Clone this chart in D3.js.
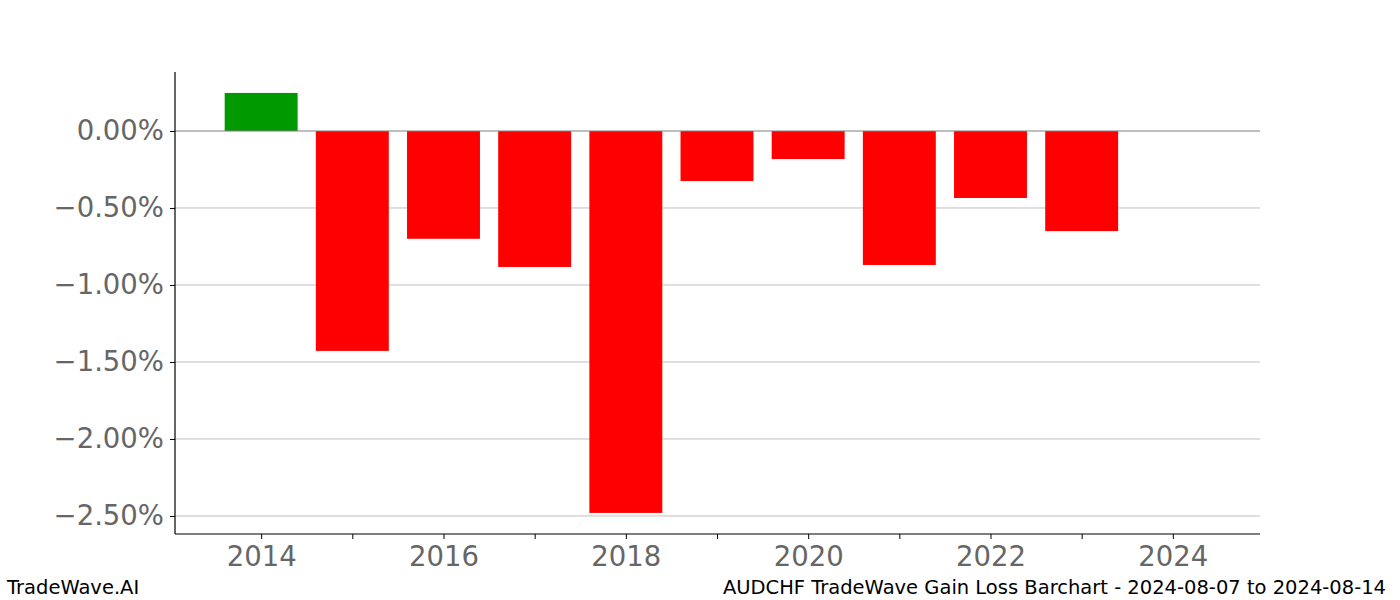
<!DOCTYPE html>
<html><head><meta charset="utf-8">
<script src="https://cdn.jsdelivr.net/npm/d3@7"></script>
<style>body{margin:0;background:#fff}svg{display:block;font-family:"DejaVu Sans",sans-serif}</style>
</head><body>
<svg id="c" width="1400" height="600"></svg>
<script>
const years = [2014, 2015, 2016, 2017, 2018, 2019, 2020, 2021, 2022, 2023];
const values = [0.247, -1.428, -0.70, -0.883, -2.48, -0.325, -0.182, -0.870, -0.435, -0.650];
const yTicks = [0, -0.5, -1.0, -1.5, -2.0, -2.5];
const xTicks = [2014, 2016, 2018, 2020, 2022, 2024];
const xMinor = [2015, 2017, 2019, 2021, 2023];

const svg = d3.select('#c');
const L = 175, R = 1260, T = 72, B = 534;
const x = d3.scaleLinear().domain([2013.055, 2024.956]).range([L, R]);
const y = d3.scaleLinear().domain([-2.617, 0.383]).range([B, T]);
const fmt = v => (v < 0 ? '\u2212' : '') + Math.abs(v).toFixed(2) + '%';

// grid
svg.append('g').selectAll('line').data(yTicks.filter(v => v !== 0)).join('line')
  .attr('x1', L).attr('x2', R).attr('y1', d => y(d)).attr('y2', d => y(d))
  .attr('stroke', '#bfbfbf').attr('stroke-width', 1);

// bars
const bw = x(2014.4) - x(2013.6);
svg.append('g').selectAll('rect').data(years.map((yr, i) => ({yr, v: values[i]}))).join('rect')
  .attr('x', d => x(d.yr) - bw / 2).attr('width', bw)
  .attr('y', d => y(Math.max(0, d.v))).attr('height', d => Math.abs(y(d.v) - y(0)))
  .attr('fill', d => d.v >= 0 ? '#009900' : '#ff0000');

// zero line
svg.append('line').attr('x1', L).attr('x2', R).attr('y1', y(0)).attr('y2', y(0))
  .attr('stroke', '#808080').attr('stroke-width', 1.2);

// axes
const yAxis = d3.axisLeft(y).tickValues(yTicks).tickFormat(fmt).tickSize(5).tickPadding(6);
const gy = svg.append('g').attr('transform', `translate(${L},0)`).call(yAxis);
gy.select('.domain').attr('d', `M0,${T}V${B}`).attr('stroke', '#000').attr('stroke-width', 1.2);
gy.selectAll('.tick line').attr('stroke', '#000');
gy.selectAll('.tick text').attr('font-size', 27.5).attr('fill', '#666').attr('font-family', '"DejaVu Sans",sans-serif');

const xAxis = d3.axisBottom(x).tickValues(xTicks.concat(xMinor)).tickFormat(d => xTicks.includes(d) ? d : '').tickSize(5).tickPadding(7);
const gx = svg.append('g').attr('transform', `translate(0,${B})`).call(xAxis);
gx.select('.domain').attr('d', `M${L},0H${R}`).attr('stroke', '#000').attr('stroke-width', 1.2);
gx.selectAll('.tick line').attr('stroke', '#000');
gx.selectAll('.tick text').attr('font-size', 27.5).attr('fill', '#666').attr('font-family', '"DejaVu Sans",sans-serif');

// footer
svg.append('text').attr('x', 7).attr('y', 594).attr('font-size', 19.5).attr('fill', '#000').text('TradeWave.AI');
svg.append('text').attr('x', 1386).attr('y', 594).attr('text-anchor', 'end').attr('font-size', 19.5).attr('fill', '#000')
  .text('AUDCHF TradeWave Gain Loss Barchart - 2024-08-07 to 2024-08-14');
</script>
</body></html>
